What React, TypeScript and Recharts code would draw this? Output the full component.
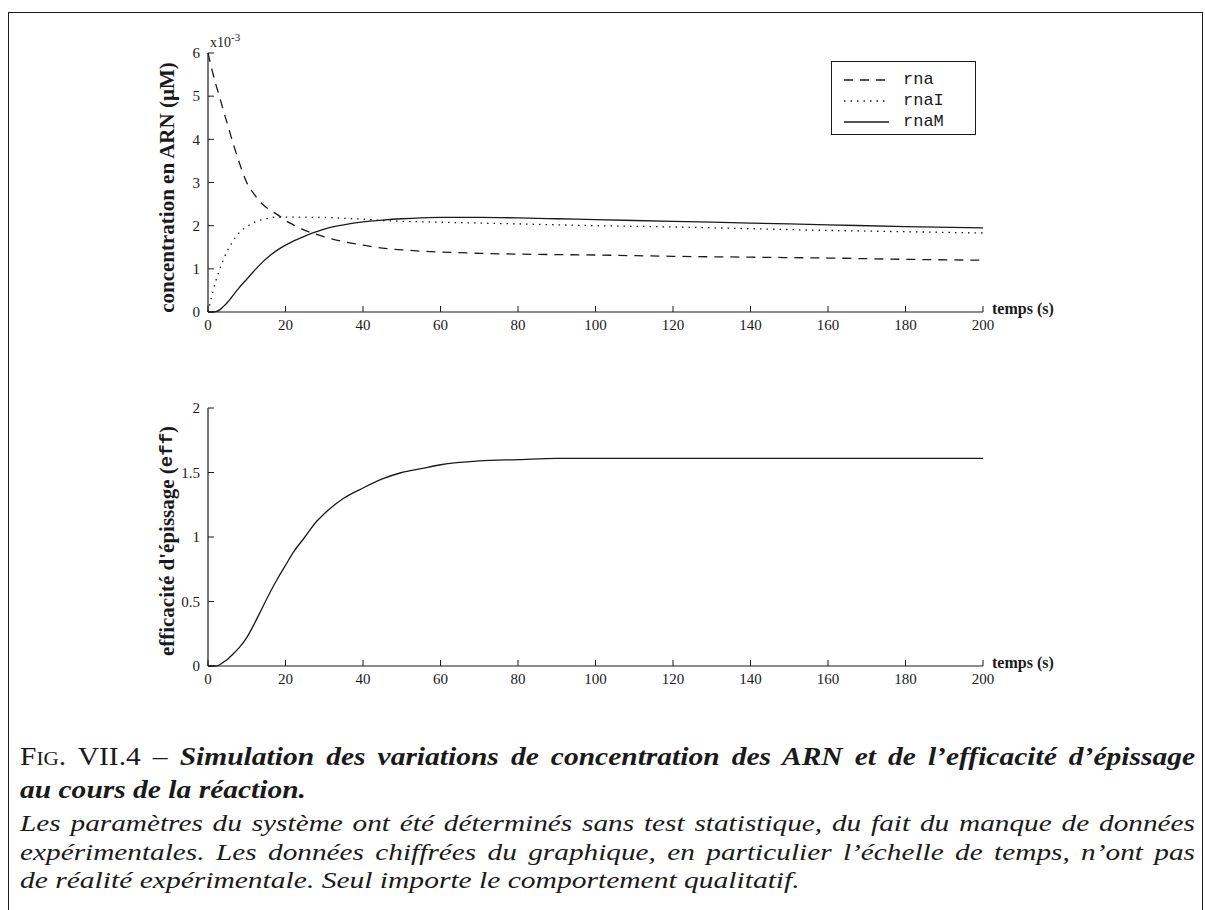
import React from 'react';
import { LineChart, Line, XAxis, YAxis, Label } from 'recharts';

// simulated time points (s)
const time = [0, 1, 2, 3, 4, 5, 6, 8, 10, 12, 14, 16, 18, 20, 22, 25, 28, 30, 35, 40, 45, 50, 55, 60, 70, 80, 90, 100, 120, 140, 160, 180, 200];
// RNA concentrations, in units of 1e-3 µM
const rna = [6.0, 5.62, 5.28, 4.98, 4.66, 4.36, 4.05, 3.48, 3.0, 2.72, 2.5, 2.36, 2.25, 2.12, 2.02, 1.89, 1.8, 1.74, 1.63, 1.55, 1.48, 1.44, 1.41, 1.39, 1.36, 1.34, 1.33, 1.32, 1.29, 1.27, 1.25, 1.22, 1.2];
const rnaI = [0, 0.38, 0.72, 0.98, 1.22, 1.42, 1.58, 1.83, 1.98, 2.08, 2.14, 2.18, 2.2, 2.2, 2.2, 2.2, 2.19, 2.19, 2.17, 2.15, 2.12, 2.1, 2.09, 2.08, 2.06, 2.04, 2.02, 2.0, 1.97, 1.93, 1.89, 1.86, 1.83];
const rnaM = [0, 0, 0.01, 0.05, 0.13, 0.22, 0.33, 0.56, 0.76, 0.96, 1.15, 1.31, 1.44, 1.55, 1.64, 1.76, 1.86, 1.92, 2.02, 2.09, 2.13, 2.16, 2.18, 2.19, 2.19, 2.18, 2.16, 2.14, 2.1, 2.06, 2.02, 1.98, 1.95];
// splicing efficiency
const eff = [0, 0, 0, 0.01, 0.03, 0.05, 0.08, 0.14, 0.22, 0.33, 0.45, 0.57, 0.68, 0.78, 0.88, 1.0, 1.12, 1.18, 1.3, 1.38, 1.45, 1.5, 1.53, 1.56, 1.59, 1.6, 1.61, 1.61, 1.61, 1.61, 1.61, 1.61, 1.61];

const xTicks = [0, 20, 40, 60, 80, 100, 120, 140, 160, 180, 200];
const concTicks = [0, 1, 2, 3, 4, 5, 6];
const effTicks = [0, 0.5, 1, 1.5, 2];

const concData = time.map((t, i) => ({ t, rna: rna[i], rnaI: rnaI[i], rnaM: rnaM[i] }));
const effData = time.map((t, i) => ({ t, eff: eff[i] }));

const serif = '"Liberation Serif", "Times New Roman", serif';
const mono = '"Liberation Mono", "Courier New", monospace';
const ink = '#1a1a1a';

const series = [
  { key: 'rna', dash: '9 7' },
  { key: 'rnaI', dash: '1.5 5' },
  { key: 'rnaM', dash: undefined },
];

const tickStyle = { fontSize: 15, fontFamily: serif, fill: ink };

function TempsLabel({ viewBox }: any) {
  if (!viewBox) return null;
  return (
    <text x={viewBox.x + viewBox.width + 9} y={viewBox.y + 2} fontFamily={serif} fontWeight={700} fontSize={16} fill={ink}>
      temps (s)
    </text>
  );
}

function ConcLabel({ viewBox }: any) {
  if (!viewBox) return null;
  const cx = viewBox.x - 1;
  const cy = viewBox.y + viewBox.height / 2 + 5;
  return (
    <g>
      <text x={cx} y={cy} transform={`rotate(-90, ${cx}, ${cy})`} textAnchor="middle" dominantBaseline="central"
        fontFamily={serif} fontWeight={700} fontSize={21} fill={ink}>
        concentration en ARN (µM)
      </text>
      <text x={viewBox.x + viewBox.width + 2} y={viewBox.y - 6} fontFamily={serif} fontSize={14} fill={ink}>
        x10<tspan dy={-6} fontSize={11}>-3</tspan>
      </text>
    </g>
  );
}

function EffLabel({ viewBox }: any) {
  if (!viewBox) return null;
  const cx = viewBox.x - 1;
  const cy = viewBox.y + viewBox.height / 2 + 4;
  return (
    <text x={cx} y={cy} transform={`rotate(-90, ${cx}, ${cy})`} textAnchor="middle" dominantBaseline="central"
      fontFamily={serif} fontWeight={700} fontSize={21} fill={ink}>
      efficacité d'épissage (<tspan fontFamily={mono} fontSize={19}>eff</tspan>)
    </text>
  );
}

// caption line, stretched horizontally like the scanned page
function CaptionLine({ top, size, scale, justify, children, style }: any) {
  return (
    <div style={{
      position: 'absolute', left: 20, top, height: 30, lineHeight: '30px', fontSize: size, color: ink,
      width: justify ? 1175 / scale : undefined, whiteSpace: 'nowrap',
      textAlign: justify ? 'justify' : 'left', textAlignLast: justify ? 'justify' : 'auto',
      transform: `scaleX(${scale})`, transformOrigin: 'left center', ...style,
    }}>
      {children}
    </div>
  );
}

export default function App() {
  const axisLine = { stroke: ink, strokeWidth: 1.2 };
  return (
    <div style={{ position: 'absolute', left: 0, top: 0, width: 1205, height: 910, background: '#fff', fontFamily: serif, overflow: 'hidden' }}>
      <div style={{ position: 'absolute', left: 8, top: 12, width: 1193, height: 920, borderLeft: `1.5px solid ${ink}`, borderTop: `1.5px solid ${ink}`, borderRight: `1.5px solid ${ink}` }} />

      <div style={{ position: 'absolute', left: 0, top: 0 }}>
        <LineChart width={1205} height={345} data={concData} margin={{ top: 53, right: 222, bottom: 3, left: 168 }}>
          <XAxis dataKey="t" type="number" domain={[0, 200]} ticks={xTicks} height={30}
            tickSize={-6} tickMargin={13} tick={tickStyle} axisLine={axisLine} tickLine={{ stroke: ink }}>
            <Label content={<TempsLabel />} />
          </XAxis>
          <XAxis xAxisId="top" orientation="top" dataKey="t" type="number" domain={[0, 200]} ticks={xTicks} height={0}
            tickSize={-6} tick={false} axisLine={axisLine} tickLine={{ stroke: ink }} />
          <YAxis type="number" domain={[0, 6]} ticks={concTicks} width={40}
            tickSize={-6} tickMargin={14} tick={tickStyle} axisLine={axisLine} tickLine={{ stroke: ink }}>
            <Label content={<ConcLabel />} />
          </YAxis>
          <YAxis yAxisId="right" orientation="right" type="number" domain={[0, 6]} ticks={concTicks} width={0}
            tickSize={-6} tick={false} axisLine={axisLine} tickLine={{ stroke: ink }} />
          {series.map((s) => (
            <Line key={s.key} dataKey={s.key} type="monotone" stroke={ink} strokeWidth={1.3}
              strokeDasharray={s.dash} dot={false} isAnimationActive={false} />
          ))}
        </LineChart>
      </div>

      <div style={{ position: 'absolute', left: 831, top: 61, width: 143, height: 72, border: `1.3px solid ${ink}`, background: '#fff' }}>
        {series.map((s, i) => (
          <div key={s.key} style={{ position: 'absolute', left: 0, top: 7 + i * 21, height: 21, display: 'flex', alignItems: 'center' }}>
            <svg width={71} height={21}>
              <line x1={12} x2={57} y1={11} y2={11} stroke={ink} strokeWidth={1.3} strokeDasharray={s.dash} />
            </svg>
            <span style={{ fontFamily: mono, fontSize: 17, color: ink }}>{s.key}</span>
          </div>
        ))}
      </div>

      <div style={{ position: 'absolute', left: 0, top: 380 }}>
        <LineChart width={1205} height={320} data={effData} margin={{ top: 28, right: 222, bottom: 4, left: 168 }}>
          <XAxis dataKey="t" type="number" domain={[0, 200]} ticks={xTicks} height={30}
            tickSize={-6} tickMargin={13} tick={tickStyle} axisLine={axisLine} tickLine={{ stroke: ink }}>
            <Label content={<TempsLabel />} />
          </XAxis>
          <XAxis xAxisId="top" orientation="top" dataKey="t" type="number" domain={[0, 200]} ticks={xTicks} height={0}
            tickSize={-6} tick={false} axisLine={axisLine} tickLine={{ stroke: ink }} />
          <YAxis type="number" domain={[0, 2]} ticks={effTicks} width={40}
            tickSize={-6} tickMargin={14} tick={tickStyle} axisLine={axisLine} tickLine={{ stroke: ink }}>
            <Label content={<EffLabel />} />
          </YAxis>
          <YAxis yAxisId="right" orientation="right" type="number" domain={[0, 2]} ticks={effTicks} width={0}
            tickSize={-6} tick={false} axisLine={axisLine} tickLine={{ stroke: ink }} />
          <Line dataKey="eff" type="monotone" stroke={ink} strokeWidth={1.3} dot={false} isAnimationActive={false} />
        </LineChart>
      </div>

      <CaptionLine top={742} size={25} scale={1.18} justify>
        <span style={{ fontVariant: 'small-caps' }}>Fig.</span> VII.4 – <b><i>Simulation des variations de concentration des ARN et de l’efficacité d’épissage</i></b>
      </CaptionLine>
      <CaptionLine top={775} size={25} scale={1.18}>
        <b><i>au cours de la réaction.</i></b>
      </CaptionLine>
      <CaptionLine top={808} size={24} scale={1.22} justify style={{ fontStyle: 'italic' }}>
        Les paramètres du système ont été déterminés sans test statistique, du fait du manque de données
      </CaptionLine>
      <CaptionLine top={837} size={24} scale={1.22} justify style={{ fontStyle: 'italic' }}>
        expérimentales. Les données chiffrées du graphique, en particulier l’échelle de temps, n’ont pas
      </CaptionLine>
      <CaptionLine top={865} size={24} scale={1.23} style={{ fontStyle: 'italic' }}>
        de réalité expérimentale. Seul importe le comportement qualitatif.
      </CaptionLine>
    </div>
  );
}
